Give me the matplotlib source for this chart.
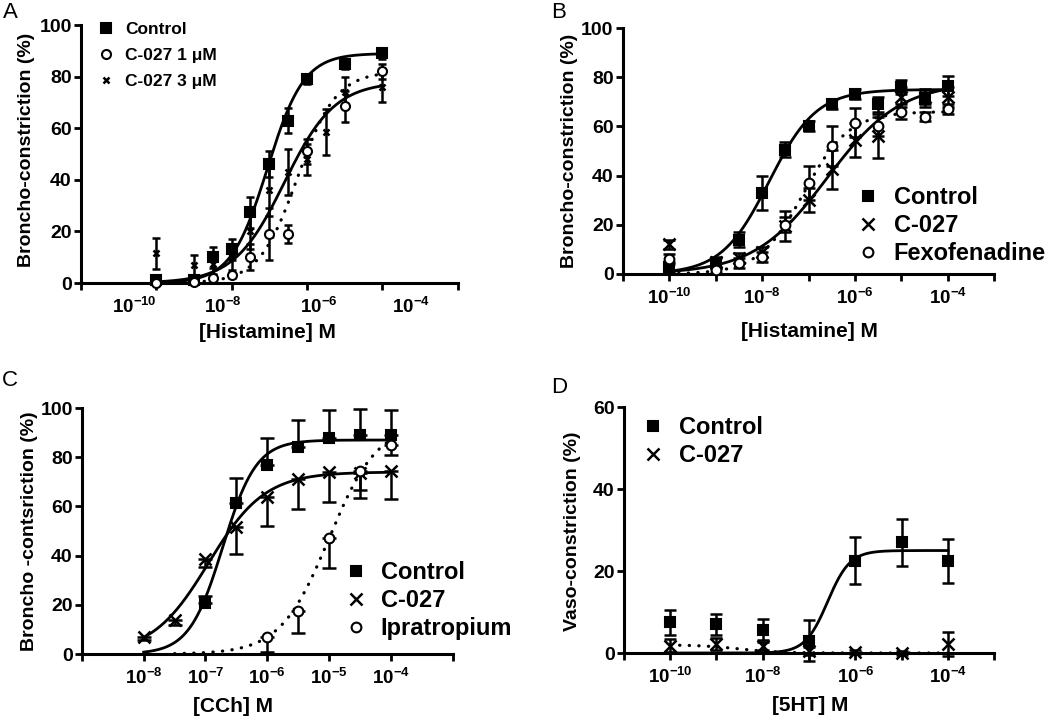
import numpy as np
import matplotlib
matplotlib.use("Agg")
import matplotlib.pyplot as plt

plt.rcParams['font.family'] = ['Liberation Sans', 'DejaVu Sans']
plt.rcParams['font.weight'] = 'bold'
plt.rcParams['mathtext.fontset'] = 'custom'
plt.rcParams['mathtext.rm'] = 'Liberation Sans:bold'
plt.rcParams['mathtext.bf'] = 'Liberation Sans:bold'
plt.rcParams['mathtext.it'] = 'Liberation Sans:bold'
plt.rcParams['mathtext.default'] = 'bf'

# ====== Data (log10 molar concentration, % response) ======
# A: histamine, trachea
a_logx = [-10, -9, -8.5, -8, -7.5, -7, -6.5, -6, -5, -4]
a_ctrl = [1, 1, 10, 13, 27.5, 46, 63, 79, 85, 89]
a_ctrl_err = [1, 1, 4, 4, 6, 5, 5, 2, 2, 2]
a_c1 = [0, 0.5, 2, 3, 10, 19, 19, 51, 68.5, 82]
a_c1_err = [0.5, 0.5, 1, 1, 5, 10, 3.5, 5, 6, 3]
a_logx_c3 = [-10, -9, -8.5, -8, -7.5, -7, -6.5, -6, -5.5, -5, -4]
a_c3 = [11.5, 7, 7.5, 10, 20, 36, 43, 48, 58.5, 74, 76]
a_c3_err = [6, 4, 4, 5, 7, 10, 9, 6, 9, 6, 6]

# B: histamine
b_logx = [-10, -9, -8.5, -8, -7.5, -7, -6.5, -6, -5.5, -5, -4.5, -4]
b_ctrl = [3, 4.5, 14, 33, 50.5, 60, 69, 73, 69, 76, 71, 76.5]
b_ctrl_err = [2, 2, 3, 7, 3, 2, 2, 2, 3, 3, 3, 4]
b_c027 = [12, 5, 6.5, 9, 19.5, 30, 42.5, 54.5, 56, 72, 72, 72]
b_c027_err = [2, 2, 2, 2, 6, 5, 8, 7, 9, 4, 3, 4]
b_fexo = [6, 1.5, 4.5, 7, 20, 37, 52, 61.5, 60, 66, 64, 67]
b_fexo_err = [2, 1, 2, 2, 3, 7, 8, 6, 4, 3, 2, 2]

# C: carbachol
c_logx_ctrl = [-7, -6.5, -6, -5.5, -5, -4.5, -4]
c_ctrl = [20.6, 61.5, 77, 84, 88, 89, 89]
c_ctrl_err = [3, 10, 11, 11, 11, 10.5, 10]
c_logx_c027 = [-8, -7.5, -7, -6.5, -6, -5.5, -5, -4.5, -4]
c_c027 = [6.8, 14, 38.5, 51.5, 64, 71, 74, 73.5, 74.5]
c_c027_err = [1, 2, 3, 11, 12, 12, 12, 10, 11.5]
c_logx_ipra = [-6, -5.5, -5, -4.5, -4]
c_ipra = [6.8, 17.5, 47, 74.5, 85]
c_ipra_err = [6, 9, 12, 8, 4]

# D: 5HT, vessel
d_logx = [-10, -9, -8, -7, -6, -5, -4]
d_ctrl = [7.5, 7, 5.7, 3, 22.5, 27, 22.5]
d_ctrl_err = [3, 2.5, 2.5, 5, 5.7, 5.8, 5.3]
d_c027 = [1.8, 2.2, 1.8, 0.5, 0.3, 0, 2.2]
d_c027_err = [1.5, 1.5, 1, 1, 0.5, 0.5, 3]

# fitted curves: bottom, top, logEC50, hill slope, log range
a_fits = [(0, 89, -7.05, 0.9, -10, -4), (0, 82, -6.25, 0.85, -10, -4), (0, 78, -6.6, 0.65, -10, -4)]
b_fits = [(0, 75, -7.85, 0.85, -10, -4), (0, 78, -6.6, 0.55, -10, -4), (0, 66, -7.1, 0.9, -10, -4)]
c_fits = [(0, 87, -6.72, 1.6, -8, -4), (0, 74, -6.95, 0.95, -8, -4), (0, 94, -5.0, 1.1, -7.5, -4)]
d_fits = [(0, 25, -6.6, 1.8, -10, -4), (2, 0, -8.5, 1.0, -10, -4)]


def hill(logx, bottom, top, logec50, slope):
    return bottom + (top - bottom) / (1 + 10.0 ** ((logec50 - logx) * slope))


def draw_curve(ax, fit, ls):
    bottom, top, ec, n, lo, hi = fit
    lx = np.linspace(lo, hi, 300)
    if ls == 'solid':
        ax.plot(10.0 ** lx, hill(lx, bottom, top, ec, n), color='black', lw=2.0, zorder=2, clip_on=False)
    else:
        ax.plot(10.0 ** lx, hill(lx, bottom, top, ec, n), color='black', lw=2.3,
                linestyle=(0, (0.1, 2.9)), dash_capstyle='round', zorder=2, clip_on=False)


def draw_points(ax, logx, y, err, marker, ms, label, face='black', capsize=4.5, side='both'):
    x = 10.0 ** np.array(logx, dtype=float)
    err = np.array(err, dtype=float)
    if side == 'up':
        yerr = [np.zeros_like(err), err]
    elif side == 'down':
        yerr = [err, np.zeros_like(err)]
    else:
        yerr = err
    ax.errorbar(x, y, yerr=yerr, fmt='none', ecolor='black', elinewidth=1.8,
                capsize=capsize, capthick=1.8, zorder=3, clip_on=False)
    mew = 1.8 if marker == 'x' else 1.5
    ax.plot(x, y, linestyle='none', marker=marker, ms=ms, mfc=face, mec='black',
            mew=mew, color='black', label=label, zorder=4, clip_on=False)


def style_axis(ax, xlo, xhi, ymax, ystep):
    ax.set_xscale('log')
    ax.set_xlim(10.0 ** xlo, 10.0 ** xhi)
    ax.set_ylim(0, ymax)
    ax.set_yticks(np.arange(0, ymax + 1, ystep))
    for s in ['top', 'right']:
        ax.spines[s].set_visible(False)
    for s in ['left', 'bottom']:
        ax.spines[s].set_linewidth(2.2)
    ax.tick_params(axis='both', which='both', direction='out', width=2.0, length=5)
    ax.tick_params(axis='y', pad=1.5, labelsize=14)
    ax.tick_params(axis='x', which='major', pad=5, labelsize=13.5)
    ax.set_facecolor('none')


def exp_label(p):
    return r'$10^{%d}$' % p


leg_kw = dict(bbox_transform=None, frameon=False, handlelength=1.0, borderpad=0,
              borderaxespad=0, numpoints=1, loc='upper left')

fig = plt.figure(figsize=(10.5, 7.18), dpi=100)
leg_kw['bbox_transform'] = fig.transFigure

# ====== Panel A ======
axA = fig.add_axes([0.077, 0.6058, 0.359, 0.3593])
style_axis(axA, -12, -2, 100, 20)
for fit, ls in zip(a_fits, ['solid', 'dotted', 'solid']):
    draw_curve(axA, fit, ls)
draw_points(axA, a_logx, a_ctrl, a_ctrl_err, 's', 7, 'Control', capsize=3)
draw_points(axA, a_logx, a_c1, a_c1_err, 'o', 6.5, 'C-027 1 \u03bcM', face='white', capsize=3)
draw_points(axA, a_logx_c3, a_c3, a_c3_err, 'x', 4.5, 'C-027 3 \u03bcM', capsize=3)
# tick marks and their labels are offset from each other in the original figure
axA.set_xticks([10.0 ** p for p in [-12, -10, -8, -6, -4, -2]], minor=True)
axA.set_xticks([10.0 ** p for p in [-10.57, -8.24, -5.68, -3.23]],
               [exp_label(p) for p in [-10, -8, -6, -4]])
axA.tick_params(axis='x', which='major', length=0, pad=10)
axA.tick_params(axis='x', which='minor', length=5, width=2.0, labelbottom=False)
axA.set_xlabel('[Histamine] M', fontsize=15, fontweight='bold')
axA.set_ylabel('Broncho-constriction (%)', fontsize=14, fontweight='bold')
axA.xaxis.set_label_coords(0.496, -0.155)
axA.yaxis.set_label_coords(-0.122, 0.516)
axA.legend(bbox_to_anchor=(97 / 1050, 1 - 22 / 718), fontsize=12.5, handletextpad=0.6,
           labelspacing=0.62, **leg_kw)

# ====== Panel B ======
axB = fig.add_axes([0.593, 0.6184, 0.354, 0.3426])
style_axis(axB, -11, -3, 100, 20)
for fit, ls in zip(b_fits, ['solid', 'solid', 'dotted']):
    draw_curve(axB, fit, ls)
draw_points(axB, b_logx, b_ctrl, b_ctrl_err, 's', 7, 'Control')
draw_points(axB, b_logx, b_c027, b_c027_err, 'x', 9, 'C-027')
draw_points(axB, b_logx, b_fexo, b_fexo_err, 'o', 7, 'Fexofenadine', face='white')
axB.set_xticks([10.0 ** p for p in range(-11, -2)], minor=True)
axB.set_xticks([10.0 ** p for p in [-10, -8, -6, -4]], [exp_label(p) for p in [-10, -8, -6, -4]])
axB.tick_params(axis='x', which='minor', length=5, width=2.0, labelbottom=False)
axB.set_xlabel('[Histamine] M', fontsize=15, fontweight='bold')
axB.set_ylabel('Broncho-constriction (%)', fontsize=14, fontweight='bold')
axB.xaxis.set_label_coords(0.503, -0.195)
axB.yaxis.set_label_coords(-0.121, 0.5)
axB.legend(bbox_to_anchor=(856 / 1050, 1 - 186 / 718), fontsize=17, handletextpad=0.6,
           labelspacing=0.22, **leg_kw)

# ====== Panel C ======
axC = fig.add_axes([0.078, 0.0891, 0.353, 0.3426])
style_axis(axC, -9, -3, 100, 20)
for fit, ls in zip(c_fits, ['solid', 'solid', 'dotted']):
    draw_curve(axC, fit, ls)
draw_points(axC, c_logx_ctrl, c_ctrl, c_ctrl_err, 's', 7, 'Control', side='up', capsize=5)
draw_points(axC, c_logx_c027, c_c027, c_c027_err, 'x', 9, 'C-027', side='down', capsize=5)
draw_points(axC, c_logx_ipra, c_ipra, c_ipra_err, 'o', 7, 'Ipratropium', face='white', side='down', capsize=5)
axC.set_xticks([10.0 ** p for p in range(-9, -2)], minor=True)
axC.set_xticks([10.0 ** p for p in range(-8, -3)], [exp_label(p) for p in range(-8, -3)])
axC.tick_params(axis='x', which='minor', length=5, width=2.0, labelbottom=False)
axC.set_xlabel('[CCh] M', fontsize=15, fontweight='bold')
axC.set_ylabel('Broncho -contsriction (%)', fontsize=14, fontweight='bold')
axC.xaxis.set_label_coords(0.407, -0.175)
axC.yaxis.set_label_coords(-0.119, 0.5)
axC.legend(bbox_to_anchor=(344 / 1050, 1 - 561 / 718), fontsize=17, handletextpad=0.55,
           labelspacing=0.22, **leg_kw)

# ====== Panel D ======
axD = fig.add_axes([0.594, 0.0905, 0.353, 0.3426])
style_axis(axD, -11, -3, 60, 20)
for fit, ls in zip(d_fits, ['solid', 'dotted']):
    draw_curve(axD, fit, ls)
draw_points(axD, d_logx, d_ctrl, d_ctrl_err, 's', 7, 'Control')
draw_points(axD, d_logx, d_c027, d_c027_err, 'x', 9, 'C-027')
axD.set_xticks([10.0 ** p for p in range(-11, -2)], minor=True)
axD.set_xticks([10.0 ** p for p in [-10, -8, -6, -4]], [exp_label(p) for p in [-10, -8, -6, -4]])
axD.tick_params(axis='x', which='minor', length=5, width=2.0, labelbottom=False)
axD.set_xlabel('[5HT] M', fontsize=15, fontweight='bold')
axD.set_ylabel('Vaso-constriction (%)', fontsize=14, fontweight='bold')
axD.xaxis.set_label_coords(0.503, -0.175)
axD.yaxis.set_label_coords(-0.116, 0.496)
axD.legend(bbox_to_anchor=(641 / 1050, 1 - 416 / 718), fontsize=17, handletextpad=0.6,
           labelspacing=0.22, **leg_kw)

# ====== Panel letters ======
for letter, x, y in [('A', 10, 13), ('B', 559, 12), ('C', 10, 380), ('D', 559, 388)]:
    fig.text(x / 1050, 1 - y / 718, letter, fontsize=16, fontweight='normal', ha='center', va='center')

fig.savefig('out.png', dpi=100)
